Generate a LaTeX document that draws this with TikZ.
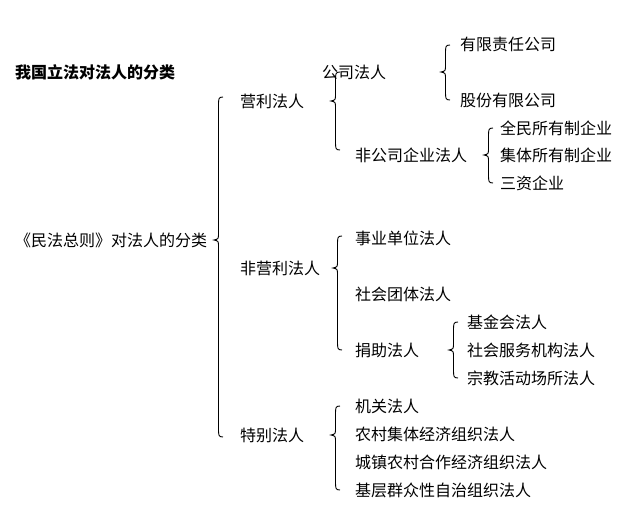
\documentclass[tikz,border=0pt]{standalone}
\usepackage{fontspec}
\setmainfont{Noto Sans CJK SC}
\newcommand\cbr[4]{% x top tip bottom
  \draw[line width=0.9pt] ({#1+9},#2) .. controls ({#1+4.5},#2) and ({#1+4.5},#2+2) .. ({#1+4.5},{#2+8})
   -- ({#1+4.5},{#3-7}) .. controls ({#1+4.5},{#3-1}) .. (#1,#3)
   .. controls ({#1+4.5},{#3+1}) .. ({#1+4.5},{#3+7})
   -- ({#1+4.5},{#4-8}) .. controls ({#1+4.5},{#4-2}) and ({#1+4.5},#4) .. ({#1+9},#4);}
\begin{document}
\begin{tikzpicture}[x=1pt,y=-1pt,
  lab/.style={anchor=west,inner sep=0pt,font=\fontsize{16}{18}\selectfont}]
\useasboundingbox (0,0) rectangle (640,525);
\node[lab,font=\fontsize{16}{18}\selectfont\bfseries] (t) at (15,72) {我国立法对法人的分类};
\node[lab] (root) at (15,240) {《民法总则》对法人的分类};
\cbr{214}{97}{240}{437}
\node[lab] (yl) at (240,101) {营利法人};
\node[lab] (fyl) at (240,268) {非营利法人};
\node[lab] (tb) at (240,435) {特别法人};
\cbr{331}{72}{101}{150}
\node[lab] (gs) at (322,72) {公司法人};
\node[lab] (fgs) at (355,155) {非公司企业法人};
\cbr{441}{45}{72}{100}
\node[lab] (yx) at (460,44) {有限责任公司};
\node[lab] (gf) at (460,100) {股份有限公司};
\cbr{484}{128}{155}{183}
\node[lab] (qm) at (500,128) {全民所有制企业};
\node[lab] (jt) at (500,155) {集体所有制企业};
\node[lab] (sz) at (500,183) {三资企业};
\cbr{333}{236}{268}{350}
\node[lab] (sy) at (355,238) {事业单位法人};
\node[lab] (st) at (355,294) {社会团体法人};
\node[lab] (jz) at (355,350) {捐助法人};
\cbr{449}{322}{350}{378}
\node[lab] (jj) at (467,322) {基金会法人};
\node[lab] (sh) at (467,350) {社会服务机构法人};
\node[lab] (zj) at (467,378) {宗教活动场所法人};
\cbr{331}{406}{435}{490}
\node[lab] (jg) at (355,406) {机关法人};
\node[lab] (nc) at (355,434) {农村集体经济组织法人};
\node[lab] (cz) at (355,462) {城镇农村合作经济组织法人};
\node[lab] (jc) at (355,490) {基层群众性自治组织法人};
\end{tikzpicture}
\end{document}
